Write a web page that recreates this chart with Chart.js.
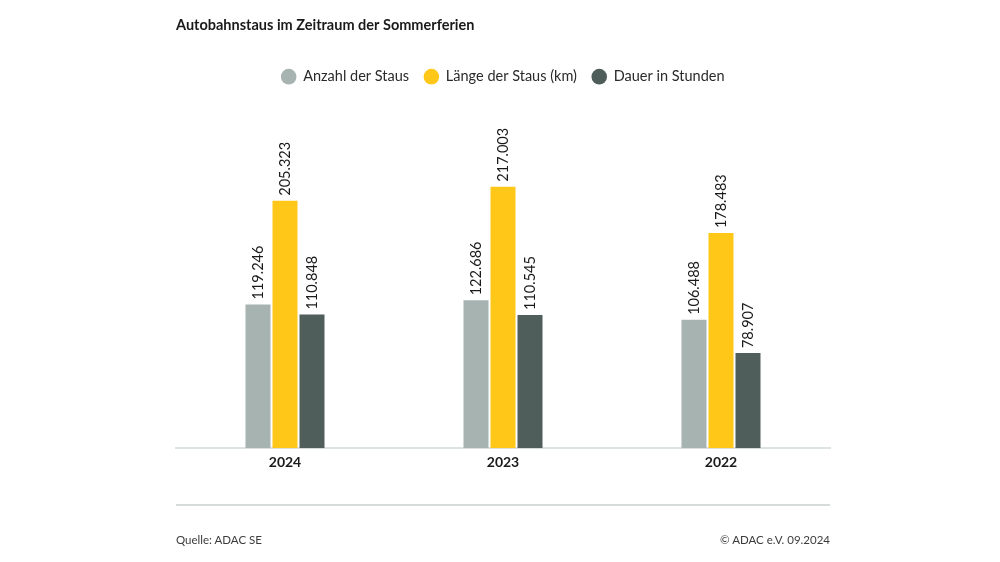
<!DOCTYPE html>
<html lang="de">
<head>
<meta charset="utf-8">
<title>Autobahnstaus im Zeitraum der Sommerferien</title>
<script src="https://cdn.jsdelivr.net/npm/chart.js@4.4.0/dist/chart.umd.min.js"></script>
<style>
  html, body { margin: 0; padding: 0; background: #fff; }
  #wrap { position: relative; width: 1000px; height: 562px; font-family: Lato, "Open Sans", sans-serif; }
  #wrap canvas { position: absolute; left: 0; top: 0; }
  .rule { position: absolute; left: 176px; width: 654px; top: 504px; height: 2px; background: #d6dcdb; }
  .foot { position: absolute; top: 533px; font-size: 11.5px; color: #3c3c3c; }
</style>
</head>
<body>
<div id="wrap">
  <canvas id="staus" width="1000" height="562"></canvas>
  <div class="rule"></div>
  <div class="foot" style="left:176px">Quelle: ADAC SE</div>
  <div class="foot" style="right:170px">© ADAC e.V. 09.2024</div>
</div>
<script>
const years = ["2024", "2023", "2022"];
const anzahl = [119246, 122686, 106488];
const laenge = [205323, 217003, 178483];
const dauer = [110848, 110545, 78907];

// 1234567 -> "1.234.567"
const fmt = v => String(v).replace(/\B(?=(\d{3})+(?!\d))/g, ".");

const valueLabels = {
  id: "valueLabels",
  afterDatasetsDraw(chart) {
    const { ctx } = chart;
    ctx.save();
    ctx.fillStyle = "#1a1a1a";
    ctx.font = "14.5px Lato";
    ctx.textAlign = "left";
    ctx.textBaseline = "middle";
    chart.data.datasets.forEach((ds, i) => {
      chart.getDatasetMeta(i).data.forEach((bar, j) => {
        ctx.save();
        ctx.translate(bar.x, bar.y - 5);
        ctx.rotate(-Math.PI / 2);
        ctx.fillText(fmt(ds.data[j]), 0, 0);
        ctx.restore();
      });
    });
    ctx.restore();
  }
};

const barOpts = { categoryPercentage: 0.3716, barPercentage: 0.926, borderWidth: 0 };

new Chart(document.getElementById("staus"), {
  type: "bar",
  data: {
    labels: years,
    datasets: [
      { label: "Anzahl der Staus", data: anzahl, backgroundColor: "#a6b3b1", ...barOpts },
      { label: "Länge der Staus (km)", data: laenge, backgroundColor: "#ffc718", ...barOpts },
      { label: "Dauer in Stunden", data: dauer, backgroundColor: "#4f5d5b", ...barOpts }
    ]
  },
  options: {
    responsive: false,
    animation: false,
    layout: { padding: { left: 176, right: 170, top: 0, bottom: 85 } },
    plugins: {
      title: {
        display: true,
        text: "Autobahnstaus im Zeitraum der Sommerferien",
        align: "start",
        color: "#1a1a1a",
        font: { family: "Lato", size: 14.5, weight: "bold" },
        padding: { top: 17, bottom: 20 }
      },
      legend: {
        position: "top",
        labels: {
          usePointStyle: true,
          pointStyle: "circle",
          boxWidth: 14.5,
          boxHeight: 11,
          padding: 15,
          color: "#2a2a2a",
          font: { family: "Lato", size: 14.5 }
        }
      },
      tooltip: { enabled: false }
    },
    scales: {
      x: {
        grid: { display: false, drawTicks: false },
        border: { color: "#dde3e2", width: 2 },
        ticks: { color: "#1a1a1a", font: { family: "Lato", size: 14, weight: "bold" }, padding: 6 }
      },
      y: { display: false, min: 0, max: 294000 }
    }
  },
  plugins: [valueLabels]
});
</script>
</body>
</html>
